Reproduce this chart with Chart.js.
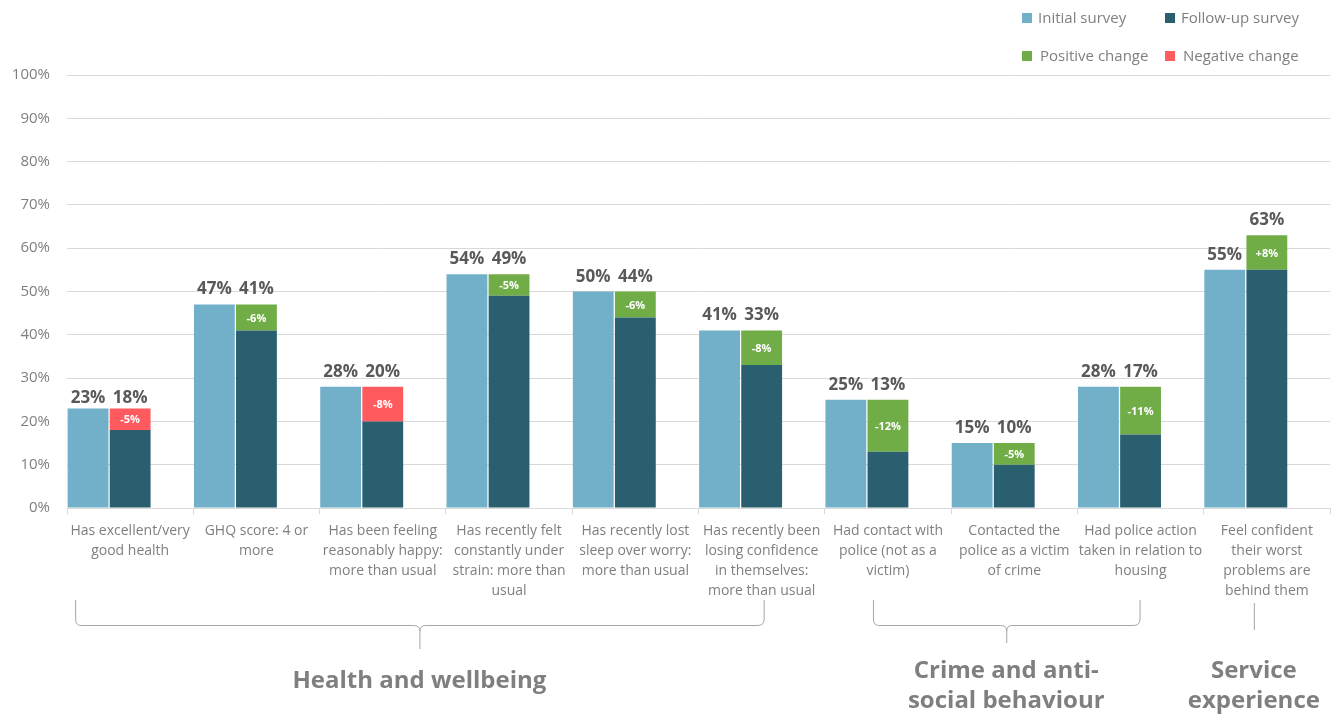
<!DOCTYPE html>
<html>
<head>
<meta charset="utf-8">
<script src="https://cdn.jsdelivr.net/npm/chart.js@4"></script>
<style>
  html, body { margin: 0; padding: 0; background: #fff; }
  #wrap { position: relative; width: 1332px; height: 716px; font-family: "Open Sans", sans-serif; }
  .legend { position: absolute; font-size: 15px; color: #7f7f7f; white-space: nowrap; }
  .legend span.box { display: inline-block; width: 10px; height: 10px; margin-right: 6px; vertical-align: 0px; }
</style>
</head>
<body>
<div id="wrap">
  <canvas id="surveyChart"></canvas>
  <div class="legend" style="left:1022px; top:7px;"><span class="box" style="background:#71b0c8"></span>Initial survey</div>
  <div class="legend" style="left:1165px; top:7px;"><span class="box" style="background:#2a5f70"></span>Follow-up survey</div>
  <div class="legend" style="left:1022px; top:45px;"><span class="box" style="background:#70ad47;margin-right:8px"></span>Positive change</div>
  <div class="legend" style="left:1165px; top:45px;"><span class="box" style="background:#ff5b5f;margin-right:8px"></span>Negative change</div>
</div>
<script>
// --- DATA ---
const categories = [
    ["Has excellent/very", "good health"],
    ["GHQ score: 4 or", "more"],
    ["Has been feeling", "reasonably happy:", "more than usual"],
    ["Has recently felt", "constantly under", "strain: more than", "usual"],
    ["Has recently lost", "sleep over worry:", "more than usual"],
    ["Has recently been", "losing confidence", "in themselves:", "more than usual"],
    ["Had contact with", "police (not as a", "victim)"],
    ["Contacted the", "police as a victim", "of crime"],
    ["Had police action", "taken in relation to", "housing"],
    ["Feel confident", "their worst", "problems are", "behind them"]
];
const initialSurvey = [23, 47, 28, 54, 50, 41, 25, 15, 28, 55];
const followUpSurvey = [18, 41, 20, 49, 44, 33, 13, 10, 17, 63];
// whether the movement between surveys is an improvement
const goodChange = [false, true, false, true, true, true, true, true, true, true];
const yTicks = [0, 10, 20, 30, 40, 50, 60, 70, 80, 90, 100];
const groupNames = [["Health and wellbeing"], ["Crime and anti-", "social behaviour"], ["Service", "experience"]];
const groupRanges = [[0, 5], [6, 8], [9, 9]];

const COL_INIT = '#71b0c8';
const COL_FOLLOW = '#2a5f70';
const COL_POS = '#70ad47';
const COL_NEG = '#ff5b5f';
const GREY = '#7f7f7f';
const FONT = '"Open Sans", sans-serif';

// follow-up bar = common base + change segment on top
const baseVals = initialSurvey.map((v, i) => Math.min(v, followUpSurvey[i]));
const diffVals = initialSurvey.map((v, i) => followUpSurvey[i] - v);
const posVals = diffVals.map((d, i) => goodChange[i] ? Math.abs(d) : null);
const negVals = diffVals.map((d, i) => goodChange[i] ? null : Math.abs(d));

// --- LABELS ON BARS ---
const barLabels = {
    id: 'barLabels',
    afterDatasetsDraw(chart) {
        const ctx = chart.ctx;
        const y = chart.scales.y;
        const initMeta = chart.getDatasetMeta(0);
        const baseMeta = chart.getDatasetMeta(1);
        ctx.save();
        ctx.textAlign = 'center';
        ctx.textBaseline = 'alphabetic';
        ctx.fillStyle = '#595959';
        ctx.font = 'bold 17px ' + FONT;
        initialSurvey.forEach((v, i) => {
            const lift = i === 0 ? 5 : 10;
            const bx = initMeta.data[i].x;
            ctx.fillText(v + '%', bx, y.getPixelForValue(v) - lift);
            const fx = baseMeta.data[i].x;
            const top = Math.max(v, followUpSurvey[i]);
            ctx.fillText(followUpSurvey[i] + '%', fx, y.getPixelForValue(top) - lift);
        });
        // change values inside the coloured segments
        ctx.fillStyle = '#fff';
        ctx.font = 'bold 11px ' + FONT;
        ctx.textBaseline = 'middle';
        [2, 3].forEach(di => {
            const meta = chart.getDatasetMeta(di);
            meta.data.forEach((el, i) => {
                if (chart.data.datasets[di].data[i] == null) return;
                const d = diffVals[i];
                const txt = (d > 0 ? '+' : '') + d + '%';
                ctx.fillText(txt, el.x, (el.y + el.base) / 2 + 1);
            });
        });
        ctx.restore();
    }
};

// --- GROUP BRACES ---
const groupBraces = {
    id: 'groupBraces',
    afterDraw(chart) {
        const ctx = chart.ctx;
        const x = chart.scales.x;
        ctx.save();
        ctx.strokeStyle = '#a6a6a6';
        ctx.lineWidth = 1;
        ctx.fillStyle = GREY;
        ctx.font = 'bold 24px ' + FONT;
        ctx.textAlign = 'center';
        ctx.textBaseline = 'middle';
        groupRanges.forEach((r, g) => {
            let cx;
            if (r[0] === r[1]) {
                cx = x.getPixelForValue(r[0]) - 13;
                ctx.beginPath();
                ctx.moveTo(cx + 0.5, 603);
                ctx.lineTo(cx + 0.5, 630);
                ctx.stroke();
            } else {
                const x1 = g === 0 ? x.getPixelForValue(r[0]) - 55 : x.getPixelForValue(r[0]) - 15;
                const x2 = g === 0 ? x.getPixelForValue(r[1]) + 2 : x.getPixelForValue(r[1]) - 1;
                cx = (x1 + x2) / 2;
                const y0 = 600, yMid = 625, yEnd = g === 0 ? 649 : 643, rr = 6;
                ctx.beginPath();
                ctx.moveTo(x1 + 0.5, y0);
                ctx.lineTo(x1 + 0.5, yMid - rr);
                ctx.quadraticCurveTo(x1 + 0.5, yMid + 0.5, x1 + rr, yMid + 0.5);
                ctx.lineTo(cx - rr, yMid + 0.5);
                ctx.quadraticCurveTo(cx + 0.5, yMid + 0.5, cx + 0.5, yMid + rr);
                ctx.lineTo(cx + 0.5, yEnd);
                ctx.moveTo(cx + 0.5, yMid + rr);
                ctx.quadraticCurveTo(cx + 0.5, yMid + 0.5, cx + rr, yMid + 0.5);
                ctx.lineTo(x2 - rr, yMid + 0.5);
                ctx.quadraticCurveTo(x2 + 0.5, yMid + 0.5, x2 + 0.5, yMid - rr);
                ctx.lineTo(x2 + 0.5, y0);
                ctx.stroke();
            }
            const lines = groupNames[g];
            const startY = lines.length === 1 ? 681 : 671;
            lines.forEach((t, k) => ctx.fillText(t, cx, startY + k * 30));
        });
        ctx.restore();
    }
};

// --- CHART ---
new Chart(document.getElementById('surveyChart'), {
    type: 'bar',
    data: {
        labels: categories,
        datasets: [
            { label: 'Initial survey', data: initialSurvey, backgroundColor: COL_INIT, stack: 'a' },
            { label: 'Follow-up survey', data: baseVals, backgroundColor: COL_FOLLOW, stack: 'b' },
            { label: 'Positive change', data: posVals, backgroundColor: COL_POS, stack: 'b' },
            { label: 'Negative change', data: negVals, backgroundColor: COL_NEG, stack: 'b' },
            { label: '', data: categories.map(() => null), stack: 'c' }
        ]
    },
    options: {
        responsive: true,
        maintainAspectRatio: false,
        animation: false,
        categoryPercentage: 1,
        barPercentage: 0.97,
        layout: { padding: { left: 0, right: 2, top: 75, bottom: 0 } },
        plugins: {
            legend: { display: false },
            tooltip: { enabled: false }
        },
        scales: {
            x: {
                stacked: true,
                grid: { offset: true, drawOnChartArea: false, drawTicks: true, tickLength: 6, color: '#d9d9d9' },
                border: { display: true, color: '#d9d9d9' },
                ticks: {
                    color: GREY,
                    padding: 7,
                    maxRotation: 0,
                    autoSkip: false,
                    font: { family: FONT, size: 14, lineHeight: 1.43 }
                },
                afterFit: (s) => { s.height = 208; }
            },
            y: {
                stacked: true,
                min: 0,
                max: 100,
                afterBuildTicks: (s) => { s.ticks = yTicks.map(v => ({ value: v })); },
                grid: { color: '#d9d9d9', drawTicks: false },
                border: { display: false },
                ticks: {
                    color: GREY,
                    padding: 17,
                    font: { family: FONT, size: 15 },
                    callback: (v) => v + '%'
                },
                afterFit: (s) => { s.width = 67; }
            }
        }
    },
    plugins: [barLabels, groupBraces]
});
</script>
</body>
</html>
